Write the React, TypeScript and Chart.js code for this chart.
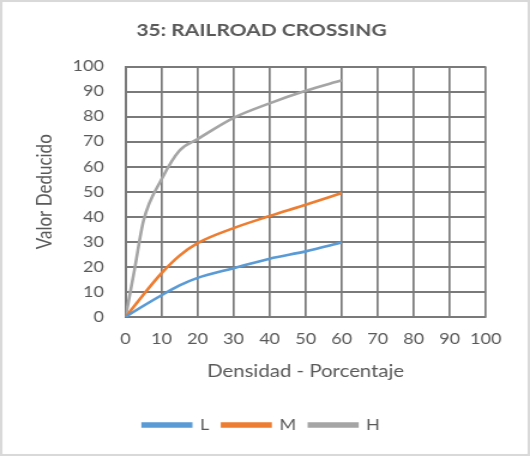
import React, { useEffect, useRef } from "react";
import { Chart, registerables } from "chart.js";

Chart.register(...registerables);

const densidad = [0, 2.5, 5, 10, 15, 20, 30, 40, 50, 60];
const serieL = [0, 2.3, 4.5, 8.7, 12.6, 15.6, 19.5, 23.3, 26.2, 29.7];
const serieM = [0, 4.5, 9, 17.5, 24.5, 29.5, 35.5, 40.3, 44.8, 49.5];
const serieH = [0, 19, 38.5, 55, 66.5, 71, 79.5, 85.3, 90.3, 94.5];
const seriesNames = ["L", "M", "H"];
const seriesColors = ["#5B9BD5", "#ED7D31", "#A5A5A5"];
const chartTitle = "35: RAILROAD CROSSING";
const xTitle = "Densidad - Porcentaje";
const yTitle = "Valor Deducido";

const W = 442;
const H = 456;
const FONT = "Lato, 'Noto Sans', sans-serif";

const borderPlugin = {
  id: "outerBorder",
  afterDraw(chart: any) {
    const ctx = chart.ctx;
    ctx.save();
    ctx.strokeStyle = "#d9d9d9";
    ctx.lineWidth = 2.5;
    ctx.strokeRect(0.8, 0.8, chart.width - 1.6, chart.height - 1.6);
    ctx.restore();
  },
};

export default function App() {
  const ref = useRef<HTMLCanvasElement>(null);
  useEffect(() => {
    if (!ref.current) return;
    const all = [serieL, serieM, serieH];
    const chart = new Chart(ref.current, {
      type: "line",
      data: {
        datasets: all.map((vals, i) => ({
          label: seriesNames[i],
          data: densidad.map((x, j) => ({ x, y: vals[j] })),
          borderColor: seriesColors[i],
          backgroundColor: seriesColors[i],
          borderWidth: 2.6,
          pointRadius: 0,
          cubicInterpolationMode: "monotone" as const,
          fill: false,
        })),
      },
      options: {
        responsive: false,
        animation: false,
        devicePixelRatio: 1,
        layout: { padding: { left: 0, right: 6, top: 0, bottom: 13.5 } },
        plugins: {
          title: {
            display: true,
            text: chartTitle,
            color: "#595959",
            font: { family: FONT, size: 17.5, weight: "bold" },
            padding: { top: 20, bottom: 25.5 },
          },
          legend: {
            position: "bottom",
            labels: {
              color: "#595959",
              font: { family: FONT, size: 15 },
              boxWidth: 40,
              boxHeight: 3,
              padding: 11,
            },
          },
          tooltip: { enabled: false },
        },
        scales: {
          x: {
            type: "linear",
            min: 0,
            max: 100,
            ticks: {
              stepSize: 10,
              color: "#595959",
              font: { family: FONT, size: 15 },
              padding: 13,
              maxRotation: 0,
            },
            grid: { color: "#7a7a7a", lineWidth: 1.7, drawTicks: false },
            border: { display: true, color: "#7a7a7a", width: 1.7 },
            title: {
              display: true,
              text: xTitle,
              color: "#595959",
              font: { family: FONT, size: 17 },
              padding: { top: 0, bottom: 24.3 },
            },
            afterFit(scale: any) {
              scale.height = 89.5;
            },
          },
          y: {
            type: "linear",
            min: 0,
            max: 100,
            ticks: {
              stepSize: 10,
              color: "#595959",
              font: { family: FONT, size: 15 },
              padding: 18,
            },
            grid: { color: "#7a7a7a", lineWidth: 2, drawTicks: false },
            border: { display: true, color: "#7a7a7a", width: 2 },
            title: {
              display: true,
              text: yTitle,
              color: "#595959",
              font: { family: FONT, size: 17 },
              padding: { top: 27.3, bottom: 0 },
            },
            afterFit(scale: any) {
              scale.width = 104.7;
            },
          },
          ySpacer: {
            type: "linear",
            position: "right",
            min: 0,
            max: 100,
            display: true,
            ticks: { display: false },
            grid: { display: false, drawOnChartArea: false, drawTicks: false },
            border: { display: false },
            afterFit(scale: any) {
              scale.width = 30.9;
            },
          },
        },
      },
      plugins: [borderPlugin],
    });
    return () => chart.destroy();
  }, []);
  return (
    <div style={{ position: "absolute", left: 0, top: 0, width: 530, height: 456, background: "#fff" }}>
      <canvas
        ref={ref}
        width={W}
        height={H}
        style={{ width: "530px", height: "456px", display: "block" }}
      />
    </div>
  );
}
